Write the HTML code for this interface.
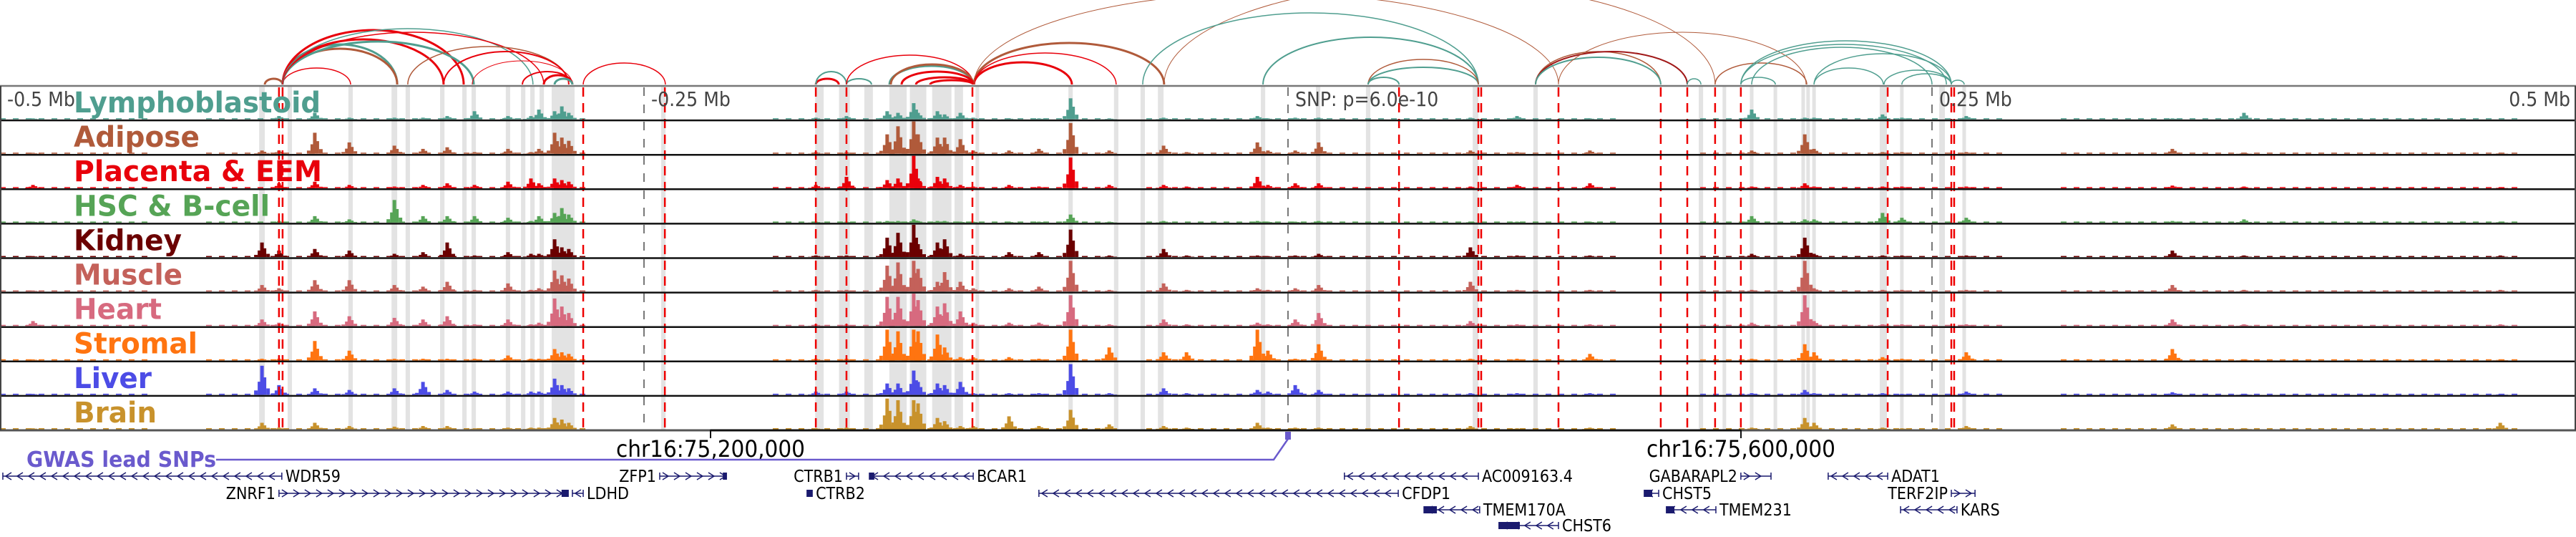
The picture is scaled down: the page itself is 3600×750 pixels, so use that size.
<!DOCTYPE html>
<html><head><meta charset="utf-8"><style>
html,body{margin:0;padding:0;background:#fff;}
svg{display:block;font-family:"DejaVu Sans Condensed","DejaVu Sans","Liberation Sans",sans-serif;}
</style></head><body>
<svg id="chart" xmlns="http://www.w3.org/2000/svg" width="3600" height="750" viewBox="0 0 3600 750">
<g id="shade"></g>
<g id="signals"></g>
<g id="vlines"></g>
<g id="frame"></g>
<g id="arcs"></g>
<g id="labels"></g>
<g id="genes"></g>
</svg>
<script>
// ---- data (kb offsets relative to lead SNP) ----
const trackNames = ["Lymphoblastoid","Adipose","Placenta & EEM","HSC & B-cell","Kidney","Muscle","Heart","Stromal","Liver","Brain"];
const trackColors = ["#4f9e8f","#b05a3a","#e8000b","#56a456","#6b0000","#c4615a","#d76a7f","#ff7410","#4c4ce6","#c8922c"];
const labelWidths = [345,176,347,274,151,152,123,173,109,116];
const peakPos = [-487.2,-398.3,-391.7,-377.8,-364.4,-346.9,-335.8,-326.4,-315.8,-302.8,-293.9,-290.8,-284.7,-281.9,-279.2,-183.3,-171.4,-155.6,-151.4,-145.3,-143.6,-136.1,-133.3,-127.2,-122.2,-108.3,-96.7,-84.4,-69.4,-48.3,-39.4,-11.9,-7.8,2.8,11.9,70.8,88.9,117.2,180,200.6,204.2,230.8,238.3,263.3,343.3,371.1,470.6];
const sigLymphoblastoid = [.03,0,.1,.2,.05,.05,.05,.1,.25,.1,.1,.3,.25,.4,.2,.05,.1,.25,.2,.5,.2,.25,.15,.2,.05,.03,.03,.65,.03,.05,0,.1,.03,.05,.05,.05,.1,.03,.3,.05,.05,.15,.05,.1,.03,.2,0];
const sigAdipose = [.03,.1,.1,.65,.35,.25,.15,.2,.05,.15,.05,.15,.65,.5,.4,.05,.05,.6,.85,1,.6,.5,.5,.45,.1,.1,.15,.95,.1,.25,.05,.35,.1,.1,.35,.1,.05,.1,.1,.6,.15,.05,.05,.05,.15,.03,.03];
const sigPlacenta = [.1,0,.15,.2,.1,.05,.1,.15,.1,.2,.3,.15,.3,.25,.2,.1,.35,.25,.3,1,.3,.35,.3,.1,.05,.1,.05,.95,.1,.1,.05,.35,.1,.15,.15,.05,.1,.15,.05,.15,.05,.05,.05,.05,.08,.05,.03];
const sigHSC = [.03,0,.05,.2,.1,.7,.2,.2,.2,.15,.05,.2,.3,.45,.25,.03,.03,.05,.05,.1,.05,.05,.05,.03,.03,.03,.03,.25,.03,.05,0,.05,.03,.03,.05,.03,.03,.03,.2,.1,.1,.3,.15,.15,.05,.1,.03];
const sigKidney = [.03,.45,.2,.25,.2,.1,.15,.45,.05,.15,.1,.1,.55,.3,.25,.05,.05,.6,.75,1,.4,.45,.55,.1,.05,.15,.15,.85,.05,.25,.05,.05,.03,.05,.1,.3,.05,.05,.1,.6,.1,.05,.05,.05,.2,.05,.05];
const sigMuscle = [.03,.2,.1,.35,.35,.2,.15,.3,.05,.25,.05,.1,.65,.5,.4,.05,.05,.8,.9,.95,.7,.3,.6,.3,.1,.1,.15,.95,.05,.25,.05,.1,.05,.1,.2,.3,.05,.05,.05,.95,.1,.05,.05,.05,.2,.05,.05];
const sigHeart = [.15,.2,.1,.45,.3,.25,.2,.3,.05,.2,.05,.1,.85,.6,.4,.05,.05,.9,.9,1,.8,.6,.7,.45,.1,.1,.1,.95,.05,.2,.05,.1,.05,.2,.4,.15,.05,.05,.1,.95,.15,.05,.05,.05,.2,.05,.05];
const sigStromal = [.03,.05,.05,.6,.3,.05,.05,.05,.05,.15,.05,.05,.35,.25,.2,.05,.05,.95,.9,.95,.9,.8,.4,.1,.1,.1,.05,.95,.4,.25,.25,.95,.3,.05,.5,.05,.05,.2,.05,.5,.25,.1,.05,.25,.35,.03,.03];
const sigLiver = [.03,.9,.3,.2,.15,.2,.4,.15,.1,.1,.1,.1,.5,.3,.2,.1,.1,.35,.35,.75,.4,.35,.3,.4,.05,.05,.05,.95,.05,.2,.05,.15,.1,.3,.15,.05,.05,.05,.05,.15,.05,.05,.03,.1,.08,.03,.03];
const sigBrain = [.03,.2,.05,.2,.1,.08,.1,.1,.03,.05,.05,.05,.35,.3,.2,.03,.05,.95,.9,.9,.8,.35,.25,.1,.1,.4,.1,.6,.15,.1,.05,.2,.05,.05,.05,.1,.03,.05,.05,.35,.2,.05,.03,.1,.15,.03,.2];
const baseStart = [-500,-420,-200,-55,160,300];
const baseEnd = [-440,-270,-70,130,280,480];
const shadeCenter = [-398.3,-387.5,-363.9,-346.9,-341.7,-328.3,-319.7,-316.1,-302.8,-296.9,-293.3,-289.7,-281.4,-242.5,-181.9,-172.2,-162.8,-151.4,-143.6,-134.4,-127.8,-120.6,-84.4,-66.7,-56.4,-49.4,-9.7,11.7,31.1,72.8,96.1,160.3,169.4,180,189.2,200,201.9,204.2,231.1,238.3,253.9,262.5];
const shadeWidth = [2.2,1.7,1.7,2.2,1.7,1.7,1.7,1.7,1.7,1.7,1.7,1.7,8.9,1.7,3.3,4.2,3.3,6.7,6.4,7.5,3.3,1.4,1.7,1.7,1.7,2.2,1.7,1.7,1.7,2.2,1.7,1.7,1.4,1.4,1.4,1.4,1.4,1.4,2.8,1.4,2.2,1.4];
const redLines = [-391.7,-390.3,-273.6,-241.9,-183.3,-171.4,-122.5,43.1,73.9,75,105,144.7,155,165.8,175.8,232.8,257.5,258.6];
const greyTicks = [-250,0,250];
const arcStart = [-397.2,-390.3,-390.3,-390.3,-390.3,-390.3,-390.3,-390.3,-390.3,-341.7,-327.8,-316.7,-297.2,-288.9,-284.7,-273.6,-183.3,-183.3,-171.4,-171.4,-154.7,-154.2,-150,-144.4,-138.9,-121.9,-121.9,-121.9,-121.9,-48.1,-56.4,-9.7,31.1,31.1,31.1,96.1,96.1,96.1,155,105,165.8,175.8,175.8,180,204.2,204.2,231.4,238.3,257.5,175.8];
const arcEnd = [-390.3,-363.9,-345.8,-345.8,-327.8,-320,-316.1,-293.1,-288.9,-279.2,-279.2,-277.8,-277.8,-277.8,-277.8,-241.7,-174.4,-171.4,-161.7,-122.2,-122.2,-122.2,-122.2,-122.2,-122.2,-48.1,-83.9,-66.7,105,165.8,73.9,73.9,73.9,73.9,43.1,144.7,155,144.7,160.3,201.1,201.4,257.5,255.6,250,257.5,231.1,257.5,257.5,262.5,189.2];
const arcScore = [8,23,56,50,63,76,60,78,73,53,46,33,18,13,8,30,8,18,8,41,26,28,18,10,6,58,31,44,128,141,100,66,24,35,10,46,46,38,8,73,30,61,56,52,43,23,20,15,6,10];
const arcKind = [2,1,0,2,1,1,0,0,1,2,1,1,1,1,0,1,1,0,0,1,0,2,1,1,1,2,1,1,2,2,0,0,0,2,0,2,3,0,0,2,2,0,0,0,0,0,0,0,0,0];
const arcColors = ["#4f9e8f","#e8000b","#b05a3a","#a01818"];
const arcWidths = [3,1.5,3,3,3,3,3,1.5,1.5,1.5,2,1,2,3,3,1.5,3,2,2,1.5,3,3,3,3,3,3,3,1.5,1,1,1.5,2,2,1.5,2,1.5,2,2,1.5,1,1.5,1.5,1.5,1.5,1.5,1.5,1.5,1.5,1.5,1.5];
const geneNames = ["WDR59","ZNRF1","LDHD","ZFP1","CTRB1","CTRB2","BCAR1","CFDP1","AC009163.4","TMEM170A","CHST6","GABARAPL2","CHST5","TMEM231","ADAT1","TERF2IP","KARS"];
const geneStart = [-498.9,-391.7,-277.8,-243.9,-171.4,-186.7,-162.5,-96.7,21.9,52.8,81.9,175.8,138.3,146.9,209.7,257.5,237.8];
const geneEnd = [-390.6,-281.1,-273.6,-218.1,-166.7,-184.7,-122.2,42.8,73.9,74.4,105,187.5,143.9,166.1,232.8,266.7,259.7];
const geneRow = [0,1,1,0,0,1,0,1,0,2,3,0,1,2,0,1,2];
const geneStrand = [-1,1,-1,1,1,-1,-1,-1,-1,-1,-1,1,-1,-1,-1,1,-1];
const exonStart = [null,-282,null,-219.4,null,-186.7,-162.5,null,null,52.8,81.9,null,138.3,146.9,null,null,null];
const exonEnd = [null,-279.2,null,-217.8,null,-184.7,-160.6,null,null,57.8,90,null,141.4,150,null,null,null];
const axisTickPos = [75200000,75600000];
const axisTickLabels = ["chr16:75,200,000","chr16:75,600,000"];
const snpPos = 75424167;
const relLabels = ["-0.5 Mb","-0.25 Mb","SNP: p=6.0e-10","0.25 Mb","0.5 Mb"];
const relLabelPos = [-500,-250,0,250,500];

// ---- scales ----
const NS="http://www.w3.org/2000/svg";
const X0=1800, PXKB=3.6, TOP=120, TH=48.1;
const x = kb => X0 + kb*PXKB;
const xg = bp => x((bp-snpPos)/1000);
function el(tag, attrs, parent){const e=document.createElementNS(NS,tag);for(const k in attrs)e.setAttribute(k,attrs[k]);parent.appendChild(e);return e;}
const G = id => document.getElementById(id);

// shaded regions
shadeCenter.forEach((c,i)=>{
  const r=el('rect',{x:x(c-shadeWidth[i]/2),y:TOP,width:shadeWidth[i]*PXKB,height:TH*10,fill:'#e3e3e3'},G('shade'));
  
  
});

// signals
const sigs=[sigLymphoblastoid,sigAdipose,sigPlacenta,sigHSC,sigKidney,sigMuscle,sigHeart,sigStromal,sigLiver,sigBrain];
sigs.forEach((vals,t)=>{
  const g=el('g',{fill:trackColors[t]},G('signals'));
  
  
  const base=TOP+TH*(t+1)-1.5, hmax=TH-3;
  baseStart.forEach((s,i)=>{ for(let k=s;k<baseEnd[i];k+=5){ el('rect',{x:x(k),y:base-1.5,width:8,height:1.5},g);} });
  vals.forEach((v,i)=>{
    if(v<=0) return;
    const cx=x(peakPos[i]), h=v*hmax;
    const b=el('rect',{x:cx-2.5,y:base-h,width:5,height:h},g);
    
    
    el('rect',{x:cx-6,y:base-h*0.45,width:4,height:h*0.45},g);
    el('rect',{x:cx+2,y:base-h*0.6,width:4,height:h*0.6},g);
    el('rect',{x:cx-11,y:base-h*0.15,width:5,height:h*0.15},g);
    el('rect',{x:cx+6,y:base-h*0.22,width:5,height:h*0.22},g);
  });
});

// vertical marker lines
greyTicks.forEach(k=>{
  const l=el('line',{x1:x(k),x2:x(k),y1:TOP+2,y2:TOP+TH*10,stroke:'#777','stroke-width':2,'stroke-dasharray':'12 12'},G('vlines'));
  
  
});
redLines.forEach(k=>{
  const l=el('line',{x1:x(k),x2:x(k),y1:TOP+2,y2:TOP+TH*10,stroke:'#ee0000','stroke-width':2.5,'stroke-dasharray':'13 9'},G('vlines'));
  
  
});

// frame
el('line',{x1:0,x2:3600,y1:TOP,y2:TOP,stroke:'#777','stroke-width':2.5},G('frame'));
for(let t=1;t<=10;t++){
  el('line',{x1:0,x2:3600,y1:TOP+TH*t,y2:TOP+TH*t,stroke:t==10?'#555':'#111','stroke-width':t==10?3:2.5},G('frame'));
}
el('line',{x1:1,x2:1,y1:TOP,y2:TOP+TH*10,stroke:'#444','stroke-width':2},G('frame'));
el('line',{x1:3599,x2:3599,y1:TOP,y2:TOP+TH*10,stroke:'#444','stroke-width':2},G('frame'));

// arcs
arcStart.forEach((s,i)=>{
  const x1=x(s), x2=x(arcEnd[i]), a=(x2-x1)/2, h=arcScore[i], y0=118;
  const p=el('path',{d:`M${x1},${y0} A${a},${h} 0 0 1 ${x2},${y0}`,fill:'none',stroke:arcColors[arcKind[i]],'stroke-width':arcWidths[i]},G('arcs'));
  
  
});

// track labels
trackNames.forEach((n,t)=>{
  const tx=el('text',{x:103,y:TOP+TH*t+37,fill:trackColors[t],'font-size':40,'font-weight':'bold',textLength:labelWidths[t],lengthAdjust:'spacingAndGlyphs'},G('labels'));
  tx.textContent=n;
  
  
});
relLabels.forEach((s,i)=>{
  const last=i==relLabels.length-1;
  const tx=el('text',{x:last?3592:x(relLabelPos[i])+10,y:148,fill:'#444','font-size':28,'text-anchor':last?'end':'start'},G('labels'));
  tx.textContent=s;
  
  
});

// genomic axis
el('line',{x1:xg(axisTickPos[0]),x2:xg(axisTickPos[1]),y1:601,y2:601,stroke:'#111','stroke-width':3},G('genes'));
axisTickPos.forEach((p,i)=>{
  el('line',{x1:xg(p),x2:xg(p),y1:600,y2:612,stroke:'#111','stroke-width':2},G('genes'));
  const tx=el('text',{x:xg(p)-132,y:638,'font-size':32,fill:'#000',textLength:264,lengthAdjust:'spacingAndGlyphs'},G('genes'));
  tx.textContent=axisTickLabels[i];
  
  
});

// GWAS track
const gw=el('text',{x:37,y:652,fill:'#6a5acd','font-size':30,'font-weight':'bold',textLength:265,lengthAdjust:'spacingAndGlyphs'},G('genes'));
gw.textContent='GWAS lead SNPs';


const sx=xg(snpPos);
const gl=el('polyline',{points:`302,642 ${sx-20},642 ${sx},613`,fill:'none',stroke:'#6a5acd','stroke-width':2.5},G('genes'));


const sm=el('rect',{x:sx-4,y:603,width:8,height:11,fill:'#6a5acd'},G('genes'));



// genes
const rowY=[665,689,712,734];
geneNames.forEach((n,i)=>{
  const g=el('g',{},G('genes'));
  
  
  const x1=x(geneStart[i]), x2=x(geneEnd[i]), y=rowY[geneRow[i]], c='#1a1a6e';
  el('line',{x1:x1,x2:x2,y1:y,y2:y,stroke:c,'stroke-width':1.5},g);
  el('line',{x1:x1,x2:x1,y1:y-5,y2:y+5,stroke:c,'stroke-width':1.5},g);
  el('line',{x1:x2,x2:x2,y1:y-5,y2:y+5,stroke:c,'stroke-width':1.5},g);
  const d=geneStrand[i];
  for(let px=x1+8;px<x2-4;px+=16){
    el('polyline',{points:`${px-4*d},${y-5} ${px+4*d},${y} ${px-4*d},${y+5}`,fill:'none',stroke:c,'stroke-width':1.5},g);
  }
  if(exonStart[i]!==null){
    el('rect',{x:x(exonStart[i]),y:y-5,width:Math.max(3,(exonEnd[i]-exonStart[i])*PXKB),height:10,fill:c},g);
  }
  const t=el('text',{x:d<0?x2+5:x1-5,y:y+8,'text-anchor':d<0?'start':'end','font-size':23,fill:'#000'},g);
  t.textContent=n;
});
</script>
</body></html>
